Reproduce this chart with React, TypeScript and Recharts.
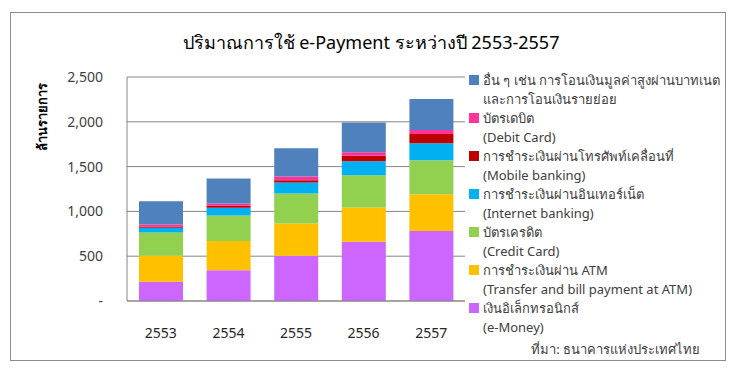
import React from "react";
import { BarChart, Bar, XAxis, YAxis, CartesianGrid, Legend } from "recharts";

const years = ["2553", "2554", "2555", "2556", "2557"];

// millions of transactions (bottom to top)
const eMoney = [215, 342, 505, 661, 780];
const atm = [290, 327, 361, 383, 412];
const creditCard = [260, 286, 334, 360, 379];
const internetBanking = [52, 85, 122, 156, 190];
const mobileBanking = [15, 22, 26, 60, 104];
const debitCard = [22, 26, 41, 40, 44];
const others = [260, 279, 316, 331, 346];

const yTicks = [0, 500, 1000, 1500, 2000, 2500];

const series = [
  { key: "eMoney", values: eMoney, color: "#CC66FF", th: "เงินอิเล็กทรอนิกส์", en: "(e-Money)" },
  { key: "atm", values: atm, color: "#FFC000", th: "การชำระเงินผ่าน ATM", en: "(Transfer and bill payment at ATM)" },
  { key: "credit", values: creditCard, color: "#92D050", th: "บัตรเครดิต", en: "(Credit Card)" },
  { key: "internet", values: internetBanking, color: "#00B0F0", th: "การชำระเงินผ่านอินเทอร์เน็ต", en: "(Internet banking)" },
  { key: "mobile", values: mobileBanking, color: "#C00000", th: "การชำระเงินผ่านโทรศัพท์เคลื่อนที่", en: "(Mobile banking)" },
  { key: "debit", values: debitCard, color: "#FF3399", th: "บัตรเดบิต", en: "(Debit Card)" },
  { key: "others", values: others, color: "#4F81BD", th: "อื่น ๆ เช่น การโอนเงินมูลค่าสูงผ่านบาทเนต", en: "และการโอนเงินรายย่อย" },
];

const data = years.map((year, i) => {
  const row: Record<string, string | number> = { year };
  series.forEach((s) => (row[s.key] = s.values[i]));
  return row;
});

const FONT = "Tahoma, 'Noto Sans', 'DejaVu Sans', sans-serif";

function LegendBox(props: any) {
  const payload = (props.payload || []) as any[];
  const ordered = [...series].reverse();
  return (
    <div style={{ fontFamily: FONT, fontSize: 13, color: "#404040", lineHeight: "19px" }}>
      {ordered.map((s) => {
        const p = payload.find((x) => x.dataKey === s.key);
        const color = p ? p.color : s.color;
        return (
          <div key={s.key} style={{ position: "relative", paddingLeft: 17 }}>
            <span
              style={{
                position: "absolute",
                left: 3,
                top: 4,
                width: 10,
                height: 10,
                background: color,
              }}
            />
            <div>{s.th}</div>
            <div>{s.en}</div>
          </div>
        );
      })}
    </div>
  );
}

export default function App() {
  return (
    <div style={{ position: "absolute", left: 0, top: 0, width: 736, height: 370, background: "#fff", fontFamily: FONT }}>
      <div
        style={{
          position: "absolute",
          left: 10,
          top: 12,
          width: 714,
          height: 347,
          border: "1px solid #8c8c8c",
        }}
      />
      <div
        style={{
          position: "absolute",
          left: 0,
          width: 742,
          top: 30,
          textAlign: "center",
          fontSize: 18,
          color: "#000",
          lineHeight: "24px",
        }}
      >
        ปริมาณการใช้ e-Payment ระหว่างปี 2553-2557
      </div>
      <div
        style={{
          position: "absolute",
          left: 42,
          top: 117,
          transform: "translate(-50%, -50%) rotate(-90deg)",
          fontSize: 13,
          fontWeight: "bold",
          whiteSpace: "nowrap",
          color: "#000",
        }}
      >
        ล้านรายการ
      </div>
      <BarChart
        width={736}
        height={370}
        data={data}
        margin={{ top: 77, right: 271, bottom: 39, left: 0 }}
        style={{ position: "absolute", left: 0, top: 0 }}
      >
        <CartesianGrid vertical={false} stroke="#868686" strokeWidth={1} />
        <XAxis
          dataKey="year"
          height={30}
          tickLine={false}
          tickSize={0}
          tickMargin={27}
          axisLine={{ stroke: "#868686" }}
          tick={{ fill: "#262626", fontSize: 14, fontFamily: FONT }}
        />
        <YAxis
          width={127}
          domain={[0, 2500]}
          ticks={yTicks}
          tickLine={false}
          tickSize={0}
          tickMargin={24}
          axisLine={{ stroke: "#868686" }}
          tickFormatter={(v: number) => (v === 0 ? "-" : v.toLocaleString("en-US"))}
          tick={{ fill: "#404040", fontSize: 14, fontFamily: FONT }}
        />
        <Legend
          layout="horizontal"
          verticalAlign="middle"
          align="center"
          content={<LegendBox />}
          wrapperStyle={{ position: "absolute", left: 466, top: 71, width: 265 }}
        />
        {series.map((s) => (
          <Bar
            key={s.key}
            dataKey={s.key}
            stackId="a"
            fill={s.color}
            barSize={44}
            isAnimationActive={false}
          />
        ))}
      </BarChart>
      <div
        style={{
          position: "absolute",
          right: 36,
          top: 339,
          fontSize: 13,
          color: "#404040",
          whiteSpace: "nowrap",
        }}
      >
        ที่มา: ธนาคารแห่งประเทศไทย
      </div>
    </div>
  );
}
